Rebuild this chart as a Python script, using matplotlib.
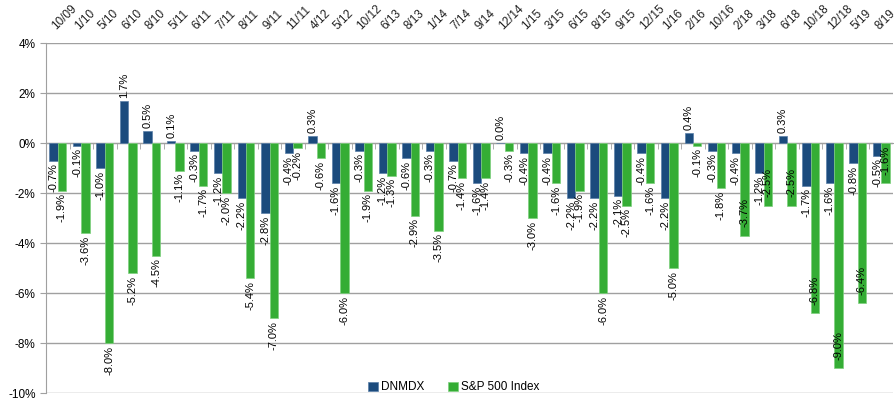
import numpy as np
import matplotlib
matplotlib.use("Agg")
import matplotlib.pyplot as plt
from matplotlib.ticker import FuncFormatter, MultipleLocator
from matplotlib.transforms import blended_transform_factory, offset_copy

plt.rcParams['font.family'] = ['Liberation Sans', 'DejaVu Sans']

# dates of the S&P 500 drawdown episodes
dates = ["10/09", "1/10", "5/10", "6/10", "8/10", "5/11", "6/11", "7/11", "8/11", "9/11",
         "11/11", "4/12", "5/12", "10/12", "6/13", "8/13", "1/14", "7/14", "9/14", "12/14",
         "1/15", "3/15", "6/15", "8/15", "9/15", "12/15", "1/16", "2/16", "10/16", "2/18",
         "3/18", "6/18", "10/18", "12/18", "5/19", "8/19"]

dnmdx = [-0.7, -0.1, -1.0, 1.7, 0.5, 0.1, -0.3, -1.2, -2.2, -2.8,
         -0.4, 0.3, -1.6, -0.3, -1.2, -0.6, -0.3, -0.7, -1.6, 0.0,
         -0.4, -0.4, -2.2, -2.2, -2.1, -0.4, -2.2, 0.4, -0.3, -0.4,
         -1.2, 0.3, -1.7, -1.6, -0.8, -0.5]

sp500 = [-1.9, -3.6, -8.0, -5.2, -4.5, -1.1, -1.7, -2.0, -5.4, -7.0,
         -0.2, -0.6, -6.0, -1.9, -1.3, -2.9, -3.5, -1.4, -1.4, -0.3,
         -3.0, -1.6, -1.9, -6.0, -2.5, -1.6, -5.0, -0.1, -1.8, -3.7,
         -2.5, -2.5, -6.8, -9.0, -6.4, -1.6]

# S&P labels that sit inside the end of the bar in the original
inside = ["2/18", "3/18", "6/18", "10/18", "12/18", "5/19", "8/19"]

blue = "#1b4b7d"
green = "#35ad35"

fig = plt.figure(figsize=(8.94, 4.0), dpi=100)
ax = fig.add_axes([46 / 894, 7 / 400, 847 / 894, 350 / 400])

x = np.arange(len(dates))
w = 0.36
b1 = ax.bar(x - w / 2, dnmdx, w, color=blue, edgecolor="#5a7fa8", linewidth=0.5,
            label="DNMDX", zorder=3)
b2 = ax.bar(x + w / 2, sp500, w, color=green, edgecolor="#7fd07f", linewidth=0.5,
            label="S&P 500 Index", zorder=3)

ax.bar_label(b1, labels=["%.1f%%" % v for v in dnmdx],
             rotation=90, padding=2, fontsize=8, color="black", zorder=4)
ax.bar_label(b2, labels=["" if d in inside else "%.1f%%" % v for d, v in zip(dates, sp500)],
             rotation=90, padding=2, fontsize=8, color="black", zorder=4)
for i, d in enumerate(dates):
    if d in inside:
        ax.annotate("%.1f%%" % sp500[i], (x[i] + w / 2, sp500[i]), xytext=(0, 6),
                    textcoords="offset points", rotation=90, ha="center", va="bottom",
                    fontsize=8, color="black", zorder=4)

ax.set_xlim(-0.5, len(dates) - 0.5)
ax.set_ylim(-10, 4)
ax.yaxis.set_major_locator(MultipleLocator(2))
ax.yaxis.set_major_formatter(FuncFormatter(lambda v, p: "%d%%" % v))
ax.grid(axis="y", color="#a0a0a0", linewidth=1, zorder=0)
ax.set_axisbelow(True)

# category ticks between groups on the zero line, date labels along the top
ax.set_xticks([])
ax.set_xticks(x[:-1] + 0.5, minor=True)
ax.tick_params(axis="x", which="minor", bottom=True, top=False, length=4,
               color="#a0a0a0")
top = offset_copy(blended_transform_factory(ax.transData, ax.transAxes),
                  fig=fig, x=0, y=8, units="points")
for i, d in enumerate(dates):
    ax.text(x[i], 1.0, d, transform=top, rotation=45, ha="left", va="bottom",
            rotation_mode="anchor", fontsize=8.5, color="#222222", clip_on=False)
ax.tick_params(axis="y", length=4, color="#a0a0a0", labelsize=8.5)

ax.spines["bottom"].set_position(("data", 0))
ax.spines["bottom"].set_color("#a0a0a0")
ax.spines["left"].set_color("#a0a0a0")
ax.spines["top"].set_visible(False)
ax.spines["right"].set_visible(False)

fig.legend(handles=[b1, b2], loc="lower center", bbox_to_anchor=(454 / 894, -0.01),
           ncol=2, frameon=False, fontsize=8.5, handlelength=0.8, handleheight=0.8,
           handletextpad=0.3, columnspacing=2.0)

fig.savefig("out.png", dpi=100)
